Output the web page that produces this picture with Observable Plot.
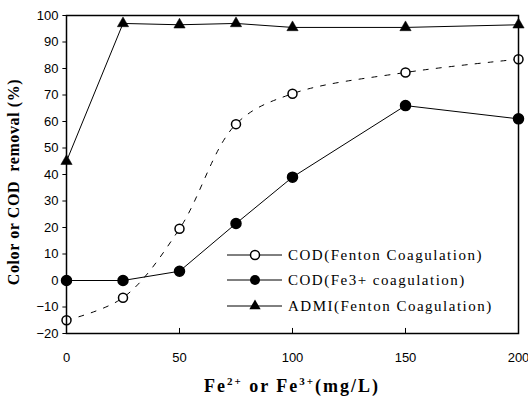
<!DOCTYPE html>
<html><head><meta charset="utf-8">
<script src="https://cdn.jsdelivr.net/npm/d3@7"></script>
<script src="https://cdn.jsdelivr.net/npm/@observablehq/plot@0.6"></script>
<style>
body{margin:0;background:#fff;}
#wrap{position:relative;width:528px;height:396px;}
.lab{position:absolute;font-family:"Liberation Serif","Times New Roman",serif;font-weight:bold;color:#000;white-space:nowrap;}
</style></head><body>
<div id="wrap"></div>
<script>
const doses = [0, 25, 50, 75, 100, 150, 200];
const codFenton = [-15, -6.5, 19.5, 59, 70.5, 78.5, 83.5];
const codFe3 = [0, 0, 3.5, 21.5, 39, 66, 61];
const admi = [45, 97, 96.5, 97, 95.5, 95.5, 96.5];
const xTicks = [0, 50, 100, 150, 200];
const yTicks = [-20, -10, 0, 10, 20, 30, 40, 50, 60, 70, 80, 90, 100];
const seriesNames = ["COD(Fenton Coagulation)", "COD(Fe3+ coagulation)", "ADMI(Fenton Coagulation)"];

const rows = (vals) => doses.map((d, i) => ({x: d, y: vals[i]}));
const dFenton = rows(codFenton), dFe3 = rows(codFe3), dAdmi = rows(admi);

const chart = Plot.plot({
  width: 528, height: 396,
  marginLeft: 66, marginRight: 10, marginTop: 15, marginBottom: 63,
  x: {domain: [0, 200], ticks: xTicks, tickSize: 0, label: null},
  y: {domain: [-20, 100], ticks: yTicks, tickSize: 0, label: null},
  style: {fontFamily: "'Liberation Sans', Arial, sans-serif", fontSize: "13px", color: "#000", background: "#fff"},
  marks: [
    Plot.line(dFenton, {x: "x", y: "y", stroke: "#000", strokeWidth: 1, strokeDasharray: "5,8", curve: "catmull-rom"}),
    Plot.line(dFe3, {x: "x", y: "y", stroke: "#000", strokeWidth: 1}),
    Plot.line(dAdmi, {x: "x", y: "y", stroke: "#000", strokeWidth: 1}),
    Plot.dot(dFenton, {x: "x", y: "y", r: 4.5, fill: "#fff", stroke: "#000", strokeWidth: 1.5}),
    Plot.dot(dFe3, {x: "x", y: "y", r: 5, fill: "#000", stroke: "#000"}),
    Plot.dot(dAdmi, {x: "x", y: "y", r: 4.2, symbol: "triangle", fill: "#000", stroke: "#000", strokeWidth: 0.5}),
    Plot.ruleX(xTicks.slice(1, -1), {x: d => d, y1: -20, y2: -18.1, stroke: "#000", strokeWidth: 1}),
    Plot.ruleY(yTicks, {y: d => d, x1: -1.6, x2: 0, stroke: "#000", strokeWidth: 1}),
    Plot.axisX(xTicks, {tickSize: 0, tickPadding: 19, fontSize: 13}),
    Plot.axisY(yTicks, {tickSize: 0, tickPadding: 8, fontSize: 13}),
    Plot.frame({stroke: "#000", strokeWidth: 1.5})
  ]
});
chart.style.overflow = "visible";
const wrap = document.getElementById("wrap");
wrap.appendChild(chart);

// y label
const yl = document.createElement("div");
yl.className = "lab";
yl.textContent = "Color or COD\u00a0 removal (%)";
yl.style.fontSize = "16px";
yl.style.letterSpacing = "0.6px";
yl.style.left = "14px"; yl.style.top = "182px";
yl.style.transform = "translate(-50%,-50%) rotate(-90deg)";
wrap.appendChild(yl);

// x label
const xl = document.createElement("div");
xl.className = "lab";
xl.innerHTML = "Fe<sup style='font-size:11px'>2+</sup> or Fe<sup style='font-size:11px'>3+</sup>(mg/L)";
xl.style.fontSize = "18px";
xl.style.left = "292px"; xl.style.top = "383px";
xl.style.letterSpacing = "2px";
xl.style.lineHeight = "20px";
xl.style.transform = "translate(-50%,-50%)";
wrap.appendChild(xl);

// legend
const leg = d3.select(wrap).append("svg")
  .attr("width", 528).attr("height", 396)
  .style("position", "absolute").style("left", 0).style("top", 0).style("pointer-events", "none");
const legY = [255, 280, 306];
seriesNames.forEach((name, i) => {
  const g = leg.append("g").attr("transform", `translate(0,${legY[i]})`);
  g.append("line").attr("x1", 227).attr("x2", 282).attr("stroke", "#000").attr("stroke-width", 1);
  if (i === 0) g.append("circle").attr("cx", 255).attr("r", 4.5).attr("fill", "#fff").attr("stroke", "#000").attr("stroke-width", 1.5);
  if (i === 1) g.append("circle").attr("cx", 255).attr("r", 5).attr("fill", "#000");
  if (i === 2) g.append("path").attr("transform", "translate(255,0)").attr("d", d3.symbol(d3.symbolTriangle, Math.PI * 4.2 * 4.2)()).attr("fill", "#000");
  g.append("text").attr("x", 288).attr("dy", "0.35em")
    .style("font-family", "'Liberation Serif','Times New Roman',serif").style("font-size", "15px").style("letter-spacing", "1.5px")
    .text(name);
});
</script>
</body></html>
